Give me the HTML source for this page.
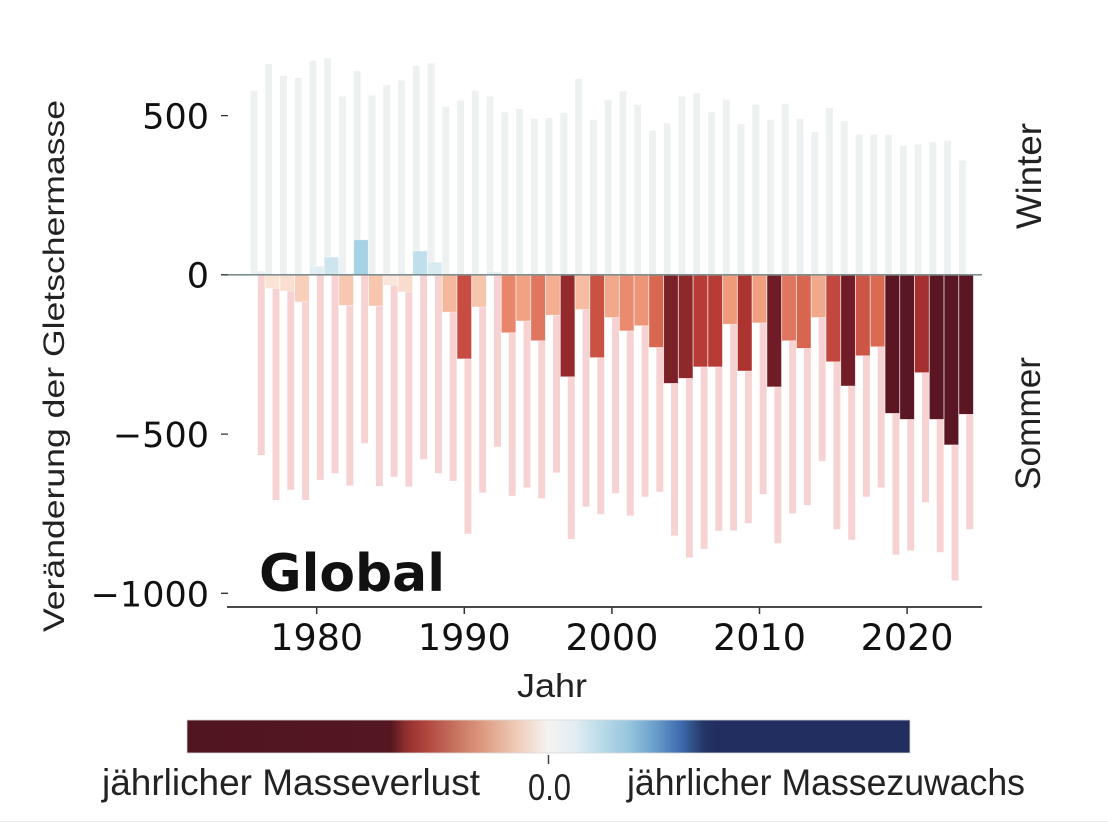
<!DOCTYPE html>
<html><head><meta charset="utf-8"><style>
html,body{margin:0;padding:0;background:#fff;}
svg{display:block;}
.t{font-family:"DejaVu Sans","Liberation Sans",sans-serif;fill:#111}
.l{font-family:"Liberation Sans",sans-serif;fill:#222}
.a path{stroke:#fff;stroke-opacity:.55;stroke-width:.7;vector-effect:non-scaling-stroke}
</style></head><body>
<svg width="1108" height="824" viewBox="0 0 1108 824" xmlns="http://www.w3.org/2000/svg">
<defs>
<linearGradient id="cb" x1="0" x2="1" y1="0" y2="0">
<stop offset="0" stop-color="#511520"/>
<stop offset="0.281" stop-color="#541620"/>
<stop offset="0.302" stop-color="#8e2e2e"/>
<stop offset="0.322" stop-color="#a93d38"/>
<stop offset="0.364" stop-color="#c46a5a"/>
<stop offset="0.409" stop-color="#dc9a80"/>
<stop offset="0.456" stop-color="#efcbb8"/>
<stop offset="0.499" stop-color="#f6f3f1"/>
<stop offset="0.536" stop-color="#e3eef3"/>
<stop offset="0.571" stop-color="#bcdcea"/>
<stop offset="0.613" stop-color="#95c4de"/>
<stop offset="0.647" stop-color="#6a9fcb"/>
<stop offset="0.682" stop-color="#3f6db0"/>
<stop offset="0.714" stop-color="#243766"/>
<stop offset="0.730" stop-color="#232e60"/>
<stop offset="1" stop-color="#232e60"/>
</linearGradient>
</defs>
<g transform="translate(316.7 274.8) scale(14.76 -0.3185)">
<path fill="#eef1f1" d="M-4.49 0v578h.47v-578zM-3.49 0v662h.47v-662zM-2.49 0v625h.47v-625zM-1.49 0v618h.47v-618zM-.49 0v672h.47v-672zM.51 0v680h.47v-680zM1.51 0v560h.47v-560zM2.51 0v639h.47v-639zM3.51 0v563h.47v-563zM4.51 0v596h.47v-596zM5.51 0v610h.47v-610zM6.51 0v655h.47v-655zM7.51 0v664h.47v-664zM8.51 0v528h.47v-528zM9.51 0v547h.47v-547zM10.51 0v578h.47v-578zM11.51 0v560h.47v-560zM12.51 0v510h.47v-510zM13.51 0v521h.47v-521zM14.51 0v490h.47v-490zM15.51 0v492h.47v-492zM16.51 0v508h.47v-508zM17.51 0v615h.47v-615zM18.51 0v487h.47v-487zM19.51 0v550h.47v-550zM20.51 0v576h.47v-576zM21.51 0v534h.47v-534zM22.51 0v453h.47v-453zM23.51 0v476h.47v-476zM24.51 0v560h.47v-560zM25.51 0v570h.47v-570zM26.51 0v510h.47v-510zM27.51 0v550h.47v-550zM28.51 0v474h.47v-474zM29.51 0v534h.47v-534zM30.51 0v487h.47v-487zM31.51 0v537h.47v-537zM32.51 0v490h.47v-490zM33.51 0v448h.47v-448zM34.51 0v524h.47v-524zM35.51 0v482h.47v-482zM36.51 0v440h.47v-440zM37.51 0v440h.47v-440zM38.51 0v440h.47v-440zM39.51 0v406h.47v-406zM40.51 0v409h.47v-409zM41.51 0v416h.47v-416zM42.51 0v421h.47v-421zM43.51 0v359h.47v-359z"/>
<path fill="#f7d2d2" d="M-3.99 0v-566h.47v566zM-2.99 0v-707h.47v707zM-1.99 0v-675h.47v675zM-.99 0v-707h.47v707zM.01 0v-644h.47v644zM1.01 0v-623h.47v623zM2.01 0v-662h.47v662zM3.01 0v-529h.47v529zM4.01 0v-663h.47v663zM5.01 0v-634h.47v634zM6.01 0v-665h.47v665zM7.01 0v-579h.47v579zM8.01 0v-623h.47v623zM9.01 0v-647h.47v647zM10.01 0v-813h.47v813zM11.01 0v-684h.47v684zM12.01 0v-540h.47v540zM13.01 0v-694h.47v694zM14.01 0v-668h.47v668zM15.01 0v-702h.47v702zM16.01 0v-621h.47v621zM17.01 0v-830h.47v830zM18.01 0v-728h.47v728zM19.01 0v-752h.47v752zM20.01 0v-686h.47v686zM21.01 0v-756h.47v756zM22.01 0v-697h.47v697zM23.01 0v-681h.47v681zM24.01 0v-819h.47v819zM25.01 0v-888h.47v888zM26.01 0v-861h.47v861zM27.01 0v-804h.47v804zM28.01 0v-803h.47v803zM29.01 0v-780h.47v780zM30.01 0v-689h.47v689zM31.01 0v-843h.47v843zM32.01 0v-749h.47v749zM33.01 0v-723h.47v723zM34.01 0v-585h.47v585zM35.01 0v-799h.47v799zM36.01 0v-832h.47v832zM37.01 0v-697h.47v697zM38.01 0v-668h.47v668zM39.01 0v-879h.47v879zM40.01 0v-866h.47v866zM41.01 0v-714h.47v714zM42.01 0v-871h.47v871zM43.01 0v-960h.47v960zM44.01 0v-799h.47v799z"/>
<g class="a">
<path fill="#ebf0f2" d="M-4.49 0v12h.98v-12z"/>
<path fill="#fbe3d6" d="M-3.49 0v-43h.98v43z"/>
<path fill="#fadfd1" d="M-2.49 0v-51h.98v51z"/>
<path fill="#f9cebb" d="M-1.49 0v-85h.98v85z"/>
<path fill="#e1eef3" d="M-.49 0v27h.98v-27z"/>
<path fill="#cde5ef" d="M.51 0v56h.98v-56z"/>
<path fill="#f8c7b0" d="M1.51 0v-96h.98v96z"/>
<path fill="#a6d2e5" d="M2.51 0v110h.98v-110z"/>
<path fill="#f8c6af" d="M3.51 0v-98h.98v98z"/>
<path fill="#fae6dc" d="M4.51 0v-33h.98v33z"/>
<path fill="#fadccd" d="M5.51 0v-54h.98v54z"/>
<path fill="#c0dfec" d="M6.51 0v75h.98v-75z"/>
<path fill="#d8eaf2" d="M7.51 0v40h.98v-40z"/>
<path fill="#f5b89d" d="M8.51 0v-117h.98v117z"/>
<path fill="#c74d42" d="M9.51 0v-264h.98v264z"/>
<path fill="#f7c4ac" d="M10.51 0v-101h.98v101z"/>
<path fill="#e4eef3" d="M11.51 0v10h.98v-10z"/>
<path fill="#e8866b" d="M12.51 0v-182h.98v182z"/>
<path fill="#f1a283" d="M13.51 0v-145h.98v145z"/>
<path fill="#e07560" d="M14.51 0v-207h.98v207z"/>
<path fill="#f4af93" d="M15.51 0v-127h.98v127z"/>
<path fill="#952a2c" d="M16.51 0v-320h.98v320z"/>
<path fill="#f6bda3" d="M17.51 0v-109h.98v109z"/>
<path fill="#c95243" d="M18.51 0v-260h.98v260z"/>
<path fill="#f2a98b" d="M19.51 0v-134h.98v134z"/>
<path fill="#ea8a6e" d="M20.51 0v-176h.98v176z"/>
<path fill="#ed9577" d="M21.51 0v-160h.98v160z"/>
<path fill="#d96850" d="M22.51 0v-228h.98v228z"/>
<path fill="#7c2028" d="M23.51 0v-341h.98v341z"/>
<path fill="#8f282b" d="M24.51 0v-325h.98v325z"/>
<path fill="#b73c35" d="M25.51 0v-289h.98v289z"/>
<path fill="#b73c35" d="M26.51 0v-289h.98v289z"/>
<path fill="#ef9a7b" d="M27.51 0v-155h.98v155z"/>
<path fill="#ab3330" d="M28.51 0v-302h.98v302z"/>
<path fill="#f0a080" d="M29.51 0v-151h.98v151z"/>
<path fill="#6f1c26" d="M30.51 0v-352h.98v352z"/>
<path fill="#e07560" d="M31.51 0v-207h.98v207z"/>
<path fill="#d8654f" d="M32.51 0v-231h.98v231z"/>
<path fill="#f2a98b" d="M33.51 0v-134h.98v134z"/>
<path fill="#c2483f" d="M34.51 0v-273h.98v273z"/>
<path fill="#711c26" d="M35.51 0v-349h.98v349z"/>
<path fill="#cc5646" d="M36.51 0v-254h.98v254z"/>
<path fill="#da6a52" d="M37.51 0v-226h.98v226z"/>
<path fill="#5b1622" d="M38.51 0v-435h.98v435z"/>
<path fill="#5a1622" d="M39.51 0v-454h.98v454z"/>
<path fill="#a5302f" d="M40.51 0v-307h.98v307z"/>
<path fill="#5a1622" d="M41.51 0v-454h.98v454z"/>
<path fill="#5a1622" d="M42.51 0v-534h.98v534z"/>
<path fill="#5a1622" d="M43.51 0v-438h.98v438z"/>
</g>
</g>
<line x1="228" y1="274.8" x2="982" y2="274.8" stroke="#7f8f90" stroke-width="1.6"/>
<path stroke="#333" stroke-width="1.3" d="M221 115.6h7M221 274.8h7M221 434.1h7M221 593.3h7"/>
<g class="t" font-size="35" text-anchor="end">
<text x="209" y="128.5">500</text>
<text x="209" y="287.6">0</text>
<text x="209" y="447">−500</text>
<text x="209" y="606.3">−1000</text>
</g>
<line x1="227" y1="607" x2="982" y2="607" stroke="#4a4a4a" stroke-width="2"/>
<path stroke="#333" stroke-width="1.5" d="M316.7 607v7M464.3 607v7M611.9 607v7M759.5 607v7M907.1 607v7"/>
<g class="t" font-size="36.5" text-anchor="middle">
<text x="316.7" y="650">1980</text>
<text x="464.3" y="650">1990</text>
<text x="611.9" y="650">2000</text>
<text x="759.5" y="650">2010</text>
<text x="907.1" y="650">2020</text>
</g>
<text class="t" x="259" y="591" font-size="52" font-weight="bold" fill="#000" textLength="186" lengthAdjust="spacingAndGlyphs">Global</text>
<text class="l" x="517" y="697" font-size="33" textLength="70" lengthAdjust="spacingAndGlyphs">Jahr</text>
<text class="l" transform="translate(64 632) rotate(-90)" font-size="30" textLength="532" lengthAdjust="spacingAndGlyphs">Veränderung der Gletschermasse</text>
<text class="l" transform="translate(1041 229) rotate(-90)" font-size="35" textLength="106" lengthAdjust="spacingAndGlyphs">Winter</text>
<text class="l" transform="translate(1040 490) rotate(-90)" font-size="35" textLength="133" lengthAdjust="spacingAndGlyphs">Sommer</text>
<rect x="187" y="720" width="723" height="33" fill="url(#cb)" stroke="#d8d8d8" stroke-width="0.8"/>
<line x1="548.5" y1="755" x2="548.5" y2="764" stroke="#444" stroke-width="1.5"/>
<text class="l" x="102" y="795" font-size="37" textLength="378" lengthAdjust="spacingAndGlyphs">jährlicher Masseverlust</text>
<text class="l" x="528" y="800" font-size="37" textLength="43" lengthAdjust="spacingAndGlyphs">0.0</text>
<text class="l" x="627" y="795" font-size="37" textLength="398" lengthAdjust="spacingAndGlyphs">jährlicher Massezuwachs</text>
<line x1="0" y1="821.5" x2="1108" y2="821.5" stroke="#ececec" stroke-width="1"/>
</svg>
</body></html>
